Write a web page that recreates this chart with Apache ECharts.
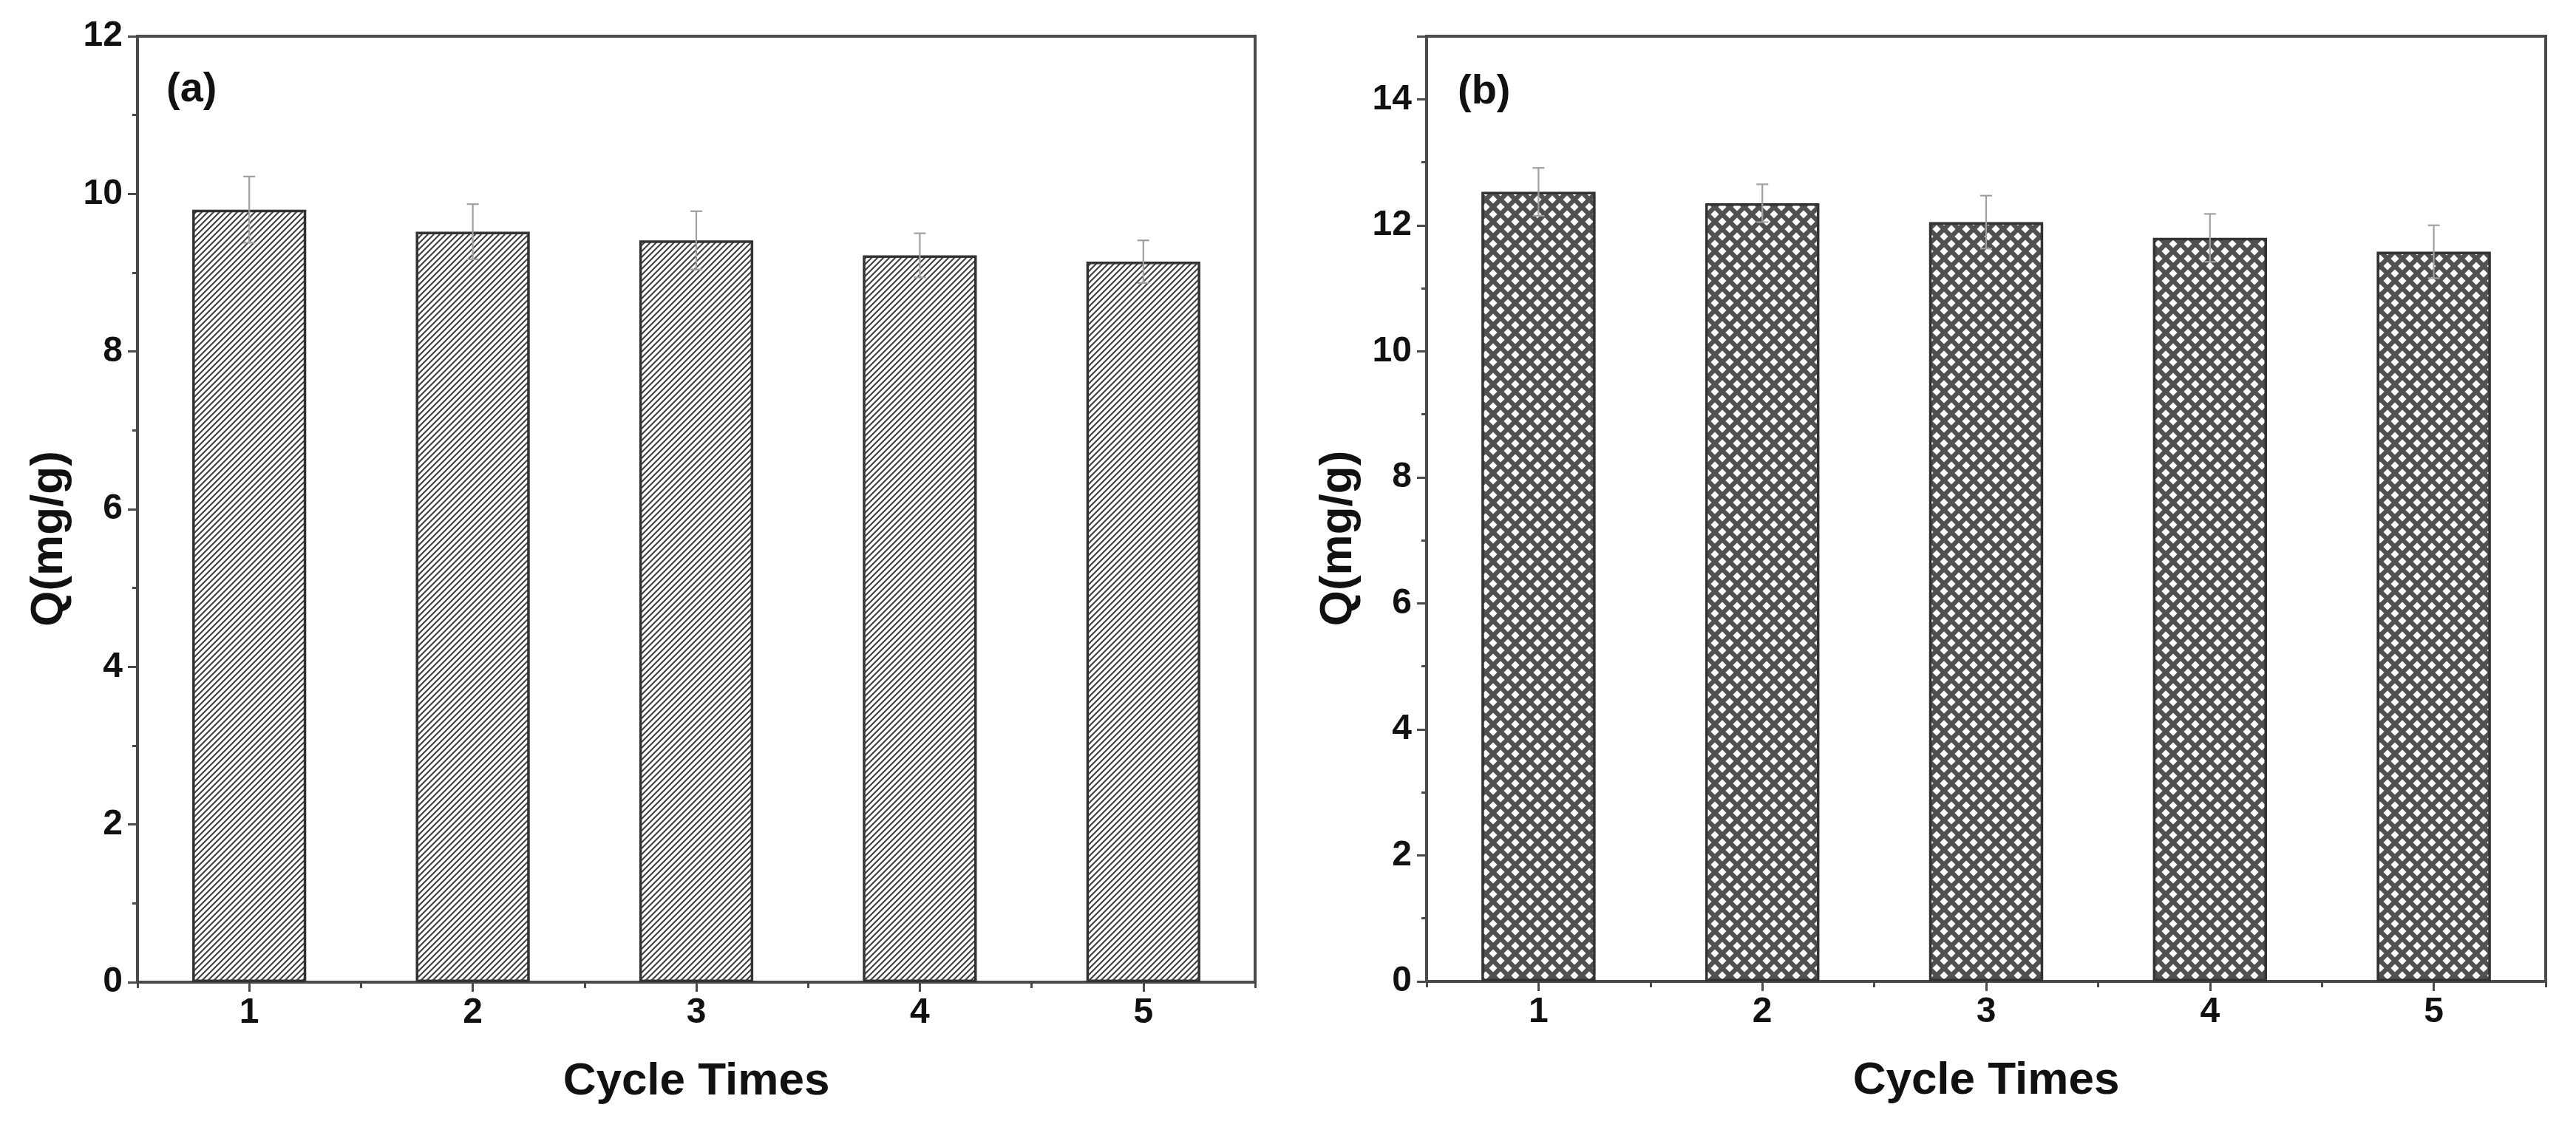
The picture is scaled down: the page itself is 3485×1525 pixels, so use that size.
<!DOCTYPE html>
<html>
<head>
<meta charset="utf-8">
<script src="https://cdn.jsdelivr.net/npm/echarts@6/dist/echarts.min.js"></script>
<style>
html,body{margin:0;padding:0;background:#fff;}
#chart{width:3485px;height:1525px;}
</style>
</head>
<body>
<div id="chart"></div>
<script>
// ---- data ----
const categories = ['1', '2', '3', '4', '5'];
const qA = [9.80, 9.52, 9.41, 9.22, 9.14];
const errA = [0.42, 0.35, 0.37, 0.28, 0.27];
const qB = [12.53, 12.35, 12.05, 11.80, 11.58];
const errB = [0.38, 0.30, 0.42, 0.38, 0.42];
const yMaxA = 12;
const yMaxB = 15;
const yStep = 2;
const xTitle = 'Cycle Times';
const yTitle = 'Q(mg/g)';
const panelLabels = ['(a)', '(b)'];

// ---- patterns ----
function hatchCanvas() {
  const p = 8;
  const c = document.createElement('canvas');
  c.width = p; c.height = p;
  const g = c.getContext('2d');
  g.fillStyle = '#ffffff'; g.fillRect(0, 0, p, p);
  g.strokeStyle = '#444444'; g.lineWidth = 2.2;
  g.beginPath();
  g.moveTo(-2, p + 2); g.lineTo(p + 2, -2);
  g.moveTo(-2, 2); g.lineTo(2, -2);
  g.moveTo(p - 2, p + 2); g.lineTo(p + 2, p - 2);
  g.stroke();
  return c;
}
function crossCanvas() {
  const p = 20;
  const c = document.createElement('canvas');
  c.width = p; c.height = p;
  const g = c.getContext('2d');
  g.fillStyle = '#ffffff'; g.fillRect(0, 0, p, p);
  g.strokeStyle = '#505050'; g.lineWidth = 6.2;
  g.beginPath();
  g.moveTo(-4, -4); g.lineTo(p + 4, p + 4);
  g.moveTo(-4, p + 4); g.lineTo(p + 4, -4);
  g.stroke();
  return c;
}

const FONT = "'Liberation Sans', Arial, Helvetica, sans-serif";
const axisColor = '#4a4a4a';

function errRender(params, api) {
  const x = api.value(0), v = api.value(1), e = api.value(2);
  const hi = api.coord([x, v + e]);
  const lo = api.coord([x, v - e]);
  const hw = 8;
  const st = { stroke: '#a0a0a0', lineWidth: 2.2 };
  return {
    type: 'group',
    children: [
      { type: 'line', shape: { x1: hi[0], y1: hi[1], x2: lo[0], y2: lo[1] }, style: st },
      { type: 'line', shape: { x1: hi[0] - hw, y1: hi[1], x2: hi[0] + hw, y2: hi[1] }, style: st },
      { type: 'line', shape: { x1: lo[0] - hw, y1: lo[1], x2: lo[0] + hw, y2: lo[1] }, style: st }
    ]
  };
}

function xAxes(gi) {
  return [
    {
      type: 'category', gridIndex: gi, data: categories, position: 'bottom',
      boundaryGap: true,
      name: xTitle, nameLocation: 'middle', nameGap: 104,
      nameTextStyle: { fontFamily: FONT, fontWeight: 'bold', fontSize: 62, color: '#111' },
      axisLine: { show: true, lineStyle: { color: axisColor, width: 4 } },
      axisTick: { show: true, alignWithLabel: true, length: 13, lineStyle: { color: axisColor, width: 3 } },
      axisLabel: { fontFamily: FONT, fontWeight: 'bold', fontSize: 48, color: '#111', margin: 18 },
      splitLine: { show: false }
    },
    {
      type: 'category', gridIndex: gi, data: categories, position: 'bottom',
      boundaryGap: true,
      axisLine: { show: false },
      axisTick: { show: true, alignWithLabel: false, length: 8, lineStyle: { color: axisColor, width: 3 } },
      axisLabel: { show: false },
      splitLine: { show: false }
    }
  ];
}

function yAxis(gi, max) {
  return {
    type: 'value', gridIndex: gi, min: 0, max: max, interval: yStep,
    name: yTitle, nameLocation: 'middle', nameGap: 88, nameRotate: 90,
    nameTextStyle: { fontFamily: FONT, fontWeight: 'bold', fontSize: 62, color: '#111', padding: [0, 80, 0, 0] },
    axisLine: { show: true, lineStyle: { color: axisColor, width: 4 } },
    axisTick: { show: true, length: 13, lineStyle: { color: axisColor, width: 3 } },
    minorTick: { show: true, splitNumber: 2, length: 7, lineStyle: { color: axisColor, width: 3 } },
    axisLabel: { fontFamily: FONT, fontWeight: 'bold', fontSize: 48, color: '#111', margin: 20, showMaxLabel: max % yStep === 0 },
    splitLine: { show: false },
    minorSplitLine: { show: false }
  };
}

const chart = echarts.init(document.getElementById('chart'), null, { renderer: 'canvas' });
const hatch = { image: hatchCanvas(), repeat: 'repeat' };
const cross = { image: crossCanvas(), repeat: 'repeat' };

const option = {
  backgroundColor: '#ffffff',
  animation: false,
  title: [
    { text: panelLabels[0], left: 225, top: 94, padding: 0,
      textStyle: { fontFamily: FONT, fontWeight: 'bold', fontSize: 56, color: '#111' } },
    { text: panelLabels[1], left: 1972, top: 97, padding: 0,
      textStyle: { fontFamily: FONT, fontWeight: 'bold', fontSize: 56, color: '#111' } }
  ],
  grid: [
    { left: 186, right: 1787, top: 49, bottom: 196, show: true, borderColor: axisColor, borderWidth: 4, backgroundColor: 'transparent' },
    { left: 1930, right: 41, top: 49, bottom: 197, show: true, borderColor: axisColor, borderWidth: 4, backgroundColor: 'transparent' }
  ],
  xAxis: xAxes(0).concat(xAxes(1)),
  yAxis: [yAxis(0, yMaxA), yAxis(1, yMaxB)],
  series: [
    {
      type: 'bar', xAxisIndex: 0, yAxisIndex: 0, data: qA, barWidth: '51%',
      itemStyle: { color: hatch, borderColor: '#333', borderWidth: 3.5 }
    },
    {
      type: 'custom', xAxisIndex: 0, yAxisIndex: 0, renderItem: errRender, z: 5,
      encode: { x: 0, y: 1 },
      data: categories.map((c, i) => [i, qA[i], errA[i]])
    },
    {
      type: 'bar', xAxisIndex: 2, yAxisIndex: 1, data: qB, barWidth: '51%',
      itemStyle: { color: cross, borderColor: '#333', borderWidth: 3.5 }
    },
    {
      type: 'custom', xAxisIndex: 2, yAxisIndex: 1, renderItem: errRender, z: 5,
      encode: { x: 0, y: 1 },
      data: categories.map((c, i) => [i, qB[i], errB[i]])
    }
  ]
};
chart.setOption(option);
</script>
</body>
</html>
